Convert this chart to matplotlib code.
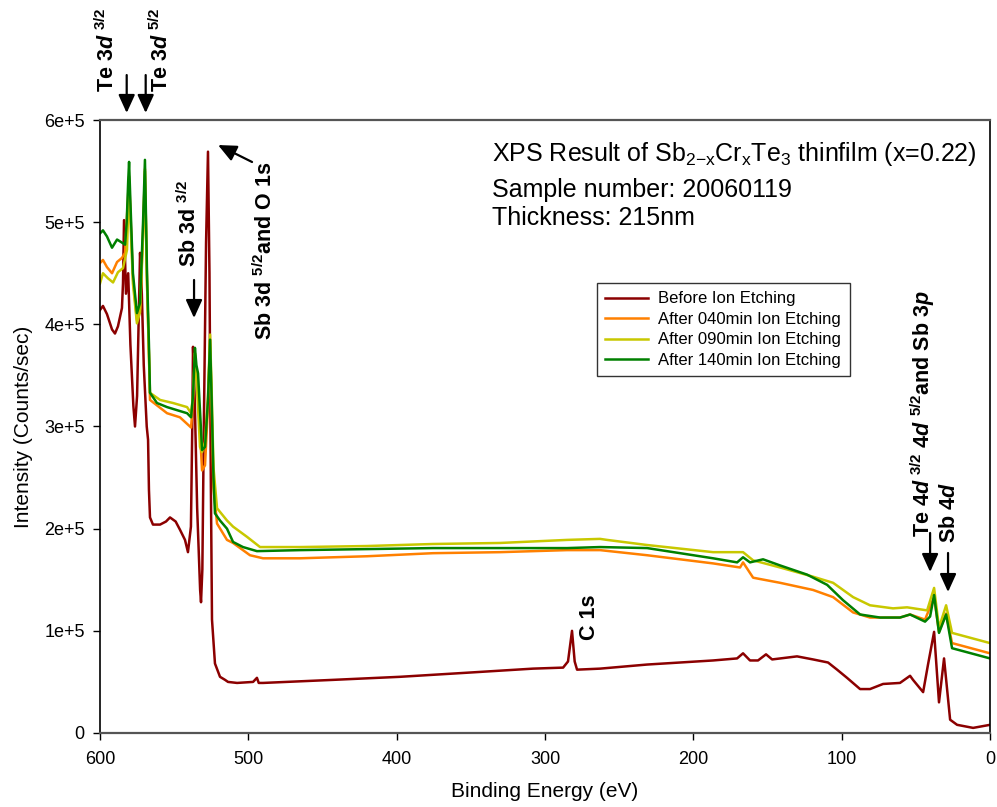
import numpy as np
import matplotlib
matplotlib.use("Agg")
import matplotlib.pyplot as plt

plt.rcParams['font.family'] = 'Liberation Sans'
plt.rcParams['mathtext.fontset'] = 'custom'
plt.rcParams['mathtext.rm'] = 'Liberation Sans:bold'
plt.rcParams['mathtext.it'] = 'Liberation Sans:italic:bold'
plt.rcParams['mathtext.bf'] = 'Liberation Sans:bold'
plt.rcParams['mathtext.sf'] = 'Liberation Sans'

# Binding energy (eV) / intensity (counts/sec)
be_before = [600, 598.0, 595.3, 591.9, 589.9, 587.9, 585.2, 584.5, 583.8, 582.5,
             581.0, 579.5, 577.5, 576.4, 575.0, 573.7, 573.0, 572.0, 570.5, 568.5,
             567.6, 567.0, 566.3, 564.3, 559.5, 555.5, 552.8, 549.0, 546.1, 542.7,
             540.7, 538.7, 537.8, 537.3, 536.2, 534.5, 532.5, 531.9, 531.0, 530.0,
             528.5, 527.2, 526.2, 525.3, 524.5, 522.5, 519.1, 515.7, 513.7, 507.6,
             496.8, 494.2, 493.0, 490.1, 442.9, 397.7, 352.6, 308.1, 287.8, 284.5,
             281.8, 280.0, 278.4, 262.9, 231.2, 186.7, 170.5, 166.5, 161.8, 156.4,
             151.0, 146.9, 130.1, 119.3, 109.2, 103.1, 96.4, 87.6, 80.9, 72.1,
             60.7, 53.9, 51.9, 45.1, 41.8, 37.7, 34.4, 31.0, 26.9, 22.2, 11.4, 0]
int_before = [414e3, 418e3, 410e3, 395e3, 391e3, 398e3, 416e3, 440e3, 502e3, 430e3,
              450e3, 380e3, 320e3, 300e3, 330e3, 420e3, 470e3, 440e3, 360e3, 300e3,
              287e3, 238e3, 211e3, 204e3, 204e3, 207e3, 211e3, 207e3, 199e3, 189e3,
              177e3, 202e3, 300e3, 378e3, 330e3, 220e3, 140e3, 128e3, 160e3, 300e3,
              480e3, 569e3, 450e3, 250e3, 111e3, 68e3, 55e3, 52e3, 50e3, 49e3,
              50e3, 54e3, 49e3, 49e3, 52e3, 55e3, 59e3, 63e3, 64e3, 70e3,
              100e3, 70e3, 62e3, 63e3, 67e3, 71e3, 73e3, 78e3, 71e3, 71e3,
              77e3, 72e3, 75e3, 72e3, 69e3, 62e3, 54e3, 43e3, 43e3, 48e3,
              49e3, 56e3, 52e3, 40e3, 67e3, 99e3, 30e3, 73e3, 13e3, 8e3, 5e3, 8e3]

be_040 = [600, 598.0, 595.3, 591.9, 588.5, 585.2, 583.1, 582.0, 580.4, 579.5,
          577.8, 575.1, 573.0, 571.0, 569.7, 568.3, 567.0, 566.3, 554.8, 546.1,
          538.6, 537.3, 536.0, 535.0, 533.9, 531.2, 529.2, 527.2, 525.8, 524.8,
          523.5, 521.1, 514.4, 510.3, 498.9, 490.1, 465.2, 420.0, 375.5, 330.3,
          285.1, 262.9, 231.2, 186.7, 168.5, 166.5, 159.7, 141.5, 119.3, 105.8,
          92.3, 80.9, 60.7, 53.9, 43.8, 37.7, 34.4, 29.6, 25.6, 0]
int_040 = [460e3, 463e3, 456e3, 450e3, 461e3, 465e3, 470e3, 500e3, 545e3, 510e3,
           445e3, 404e3, 415e3, 490e3, 552e3, 440e3, 370e3, 326e3, 313e3, 309e3,
           299e3, 325e3, 370e3, 350e3, 330e3, 257e3, 262e3, 320e3, 385e3, 320e3,
           240e3, 205e3, 189e3, 186e3, 174e3, 171e3, 171e3, 173e3, 176e3, 177e3,
           179e3, 179e3, 174e3, 166e3, 162e3, 167e3, 152e3, 147e3, 140e3, 133e3,
           118e3, 113e3, 113e3, 116e3, 111e3, 133e3, 99e3, 117e3, 88e3, 78e3]

be_090 = [600, 598.0, 594.6, 591.2, 587.9, 584.5, 581.8, 580.4, 579.5, 577.8,
          575.1, 573.0, 571.0, 569.7, 568.3, 567.0, 566.3, 559.5, 550.8, 541.3,
          538.6, 537.3, 536.0, 535.0, 532.6, 531.2, 529.2, 527.2, 525.8, 524.8,
          523.5, 521.1, 514.4, 510.3, 500.9, 492.1, 465.2, 420.0, 375.5, 330.3,
          285.1, 262.9, 258.2, 231.2, 186.7, 166.5, 159.7, 141.5, 119.3, 105.8,
          92.3, 80.9, 65.4, 55.9, 42.4, 37.7, 34.4, 29.6, 25.6, 0]
int_090 = [440e3, 450e3, 445e3, 441e3, 451e3, 455e3, 473e3, 540e3, 505e3, 440e3,
           401e3, 412e3, 485e3, 550e3, 440e3, 370e3, 333e3, 326e3, 323e3, 319e3,
           313e3, 330e3, 372e3, 350e3, 280e3, 275e3, 285e3, 330e3, 390e3, 340e3,
           260e3, 220e3, 208e3, 202e3, 192e3, 182e3, 182e3, 183e3, 185e3, 186e3,
           189e3, 190e3, 189e3, 184e3, 177e3, 177e3, 169e3, 162e3, 153e3, 147e3,
           133e3, 125e3, 122e3, 123e3, 120e3, 142e3, 103e3, 125e3, 98e3, 88e3]

be_140 = [600, 598.0, 595.3, 591.9, 588.5, 585.2, 583.1, 582.0, 581.0, 580.4,
          579.5, 577.8, 575.1, 573.0, 571.0, 569.7, 568.3, 567.0, 566.3, 561.6,
          554.8, 548.1, 541.3, 538.6, 537.3, 536.0, 535.0, 533.9, 531.2, 529.2,
          527.2, 525.8, 524.8, 523.5, 522.5, 519.1, 514.4, 510.3, 503.6, 494.2,
          465.2, 420.0, 375.5, 330.3, 285.1, 262.9, 231.2, 208.9, 186.7, 170.5,
          166.5, 161.8, 153.0, 141.5, 123.3, 109.8, 99.1, 87.6, 74.1, 60.7,
          53.9, 43.8, 40.4, 37.7, 34.4, 29.6, 25.6, 0]
int_140 = [489e3, 492e3, 486e3, 475e3, 483e3, 480e3, 478e3, 500e3, 540e3, 559e3,
           520e3, 450e3, 411e3, 421e3, 499e3, 561e3, 450e3, 380e3, 333e3, 323e3,
           319e3, 316e3, 313e3, 309e3, 330e3, 377e3, 360e3, 352e3, 277e3, 280e3,
           326e3, 385e3, 330e3, 250e3, 215e3, 208e3, 200e3, 187e3, 182e3, 178e3,
           179e3, 180e3, 181e3, 181e3, 181e3, 182e3, 181e3, 176e3, 171e3, 167e3,
           172e3, 167e3, 170e3, 164e3, 155e3, 145e3, 130e3, 116e3, 113e3, 113e3,
           116e3, 109e3, 114e3, 135e3, 98e3, 116e3, 83e3, 73e3]

labels = ["Before Ion Etching", "After 040min Ion Etching",
          "After 090min Ion Etching", "After 140min Ion Etching"]
colors = ["#8B0000", "#FF8000", "#C8C800", "#008000"]

x_ticks = [600, 500, 400, 300, 200, 100, 0]
y_ticks = [0, 1e5, 2e5, 3e5, 4e5, 5e5, 6e5]
y_ticklabels = ["0", "1e+5", "2e+5", "3e+5", "4e+5", "5e+5", "6e+5"]

fig = plt.figure(figsize=(9.97, 8.07), dpi=100)
ax = fig.add_axes([0.1003, 0.0917, 0.8927, 0.7596])

series = [(be_before, int_before), (be_040, int_040),
          (be_090, int_090), (be_140, int_140)]
for (be, cnt), lab, col in zip(series, labels, colors):
    ax.plot(be, cnt, color=col, lw=1.8, label=lab)

ax.set_xlim(600, 0)
ax.set_ylim(0, 6e5)
ax.set_xticks(x_ticks)
ax.set_xticklabels([str(t) for t in x_ticks])
ax.set_yticks(y_ticks)
ax.set_yticklabels(y_ticklabels)
ax.tick_params(direction='out', length=5, width=1, labelsize=13, pad=6)
ax.tick_params(axis='x', pad=8)
for s in ['left', 'right']:
    ax.spines[s].set_color('black')
    ax.spines[s].set_linewidth(1.2)
for s in ['top', 'bottom']:
    ax.spines[s].set_color('#555555')
    ax.spines[s].set_linewidth(1.6)

ax.set_xlabel("Binding Energy (eV)", fontsize=15, labelpad=10)
ax.set_ylabel("Intensity (Counts/sec)", fontsize=15, labelpad=8)

leg = ax.legend(loc='upper left', bbox_to_anchor=(0.558, 0.734), fontsize=12,
                frameon=True, fancybox=False, framealpha=1, edgecolor='#333333',
                handlelength=2.6, handletextpad=0.6, labelspacing=0.33,
                borderpad=0.5, borderaxespad=0)
leg.get_frame().set_linewidth(1.0)

# info text
ax.text(0.4404, 0.933,
        r"XPS Result of Sb$_{\mathsf{2{-}x}}$Cr$_{\mathsf{x}}$Te$_{\mathsf{3}}$ thinfilm (x=0.22)",
        transform=ax.transAxes, fontsize=18, va='baseline', ha='left')
ax.text(0.4404, 0.874, "Sample number: 20060119", transform=ax.transAxes,
        fontsize=18, va='baseline', ha='left')
ax.text(0.4404, 0.829, "Thickness: 215nm", transform=ax.transAxes,
        fontsize=18, va='baseline', ha='left')

# peak labels
peak_labels = [
    (594.9, 627.4e3, r"Te 3$\it{d}$ $^{3/2}$"),
    (558.9, 627.4e3, r"Te 3$\it{d}$ $^{5/2}$"),
    (540.0, 456.1e3, r"Sb 3d $^{3/2}$"),
    (488.8, 384.7e3, r"Sb 3d $^{5/2}$and O 1s"),
    (269.7, 91.0e3, "C 1s"),
    (45.2, 191.8e3, r"Te 4$\it{d}$ $^{3/2}$ 4$\it{d}$ $^{5/2}$and Sb 3$\it{p}$"),
    (27.0, 186.0e3, r"Sb 4$\it{d}$"),
]
for x, y, t in peak_labels:
    ax.text(x, y, t, rotation=90, ha='center', va='bottom', fontsize=15.5,
            fontweight='bold', clip_on=False)

arrows = [
    ((582.0, 644e3), (582.0, 606.9e3)),
    ((569.2, 644e3), (569.2, 606.9e3)),
    ((536.6, 443.4e3), (536.6, 406.2e3)),
    ((497.5, 558.9e3), (520.4, 575.5e3)),
    ((40.4, 195.8e3), (40.4, 157.6e3)),
    ((28.3, 176.2e3), (28.3, 138.0e3)),
]
for tail, tip in arrows:
    ax.annotate("", xy=tip, xytext=tail, annotation_clip=False,
                arrowprops=dict(arrowstyle='-|>,head_length=0.55,head_width=0.25',
                                color='black', lw=1.6, mutation_scale=20,
                                shrinkA=0, shrinkB=0))

fig.savefig("out.png", dpi=100)
